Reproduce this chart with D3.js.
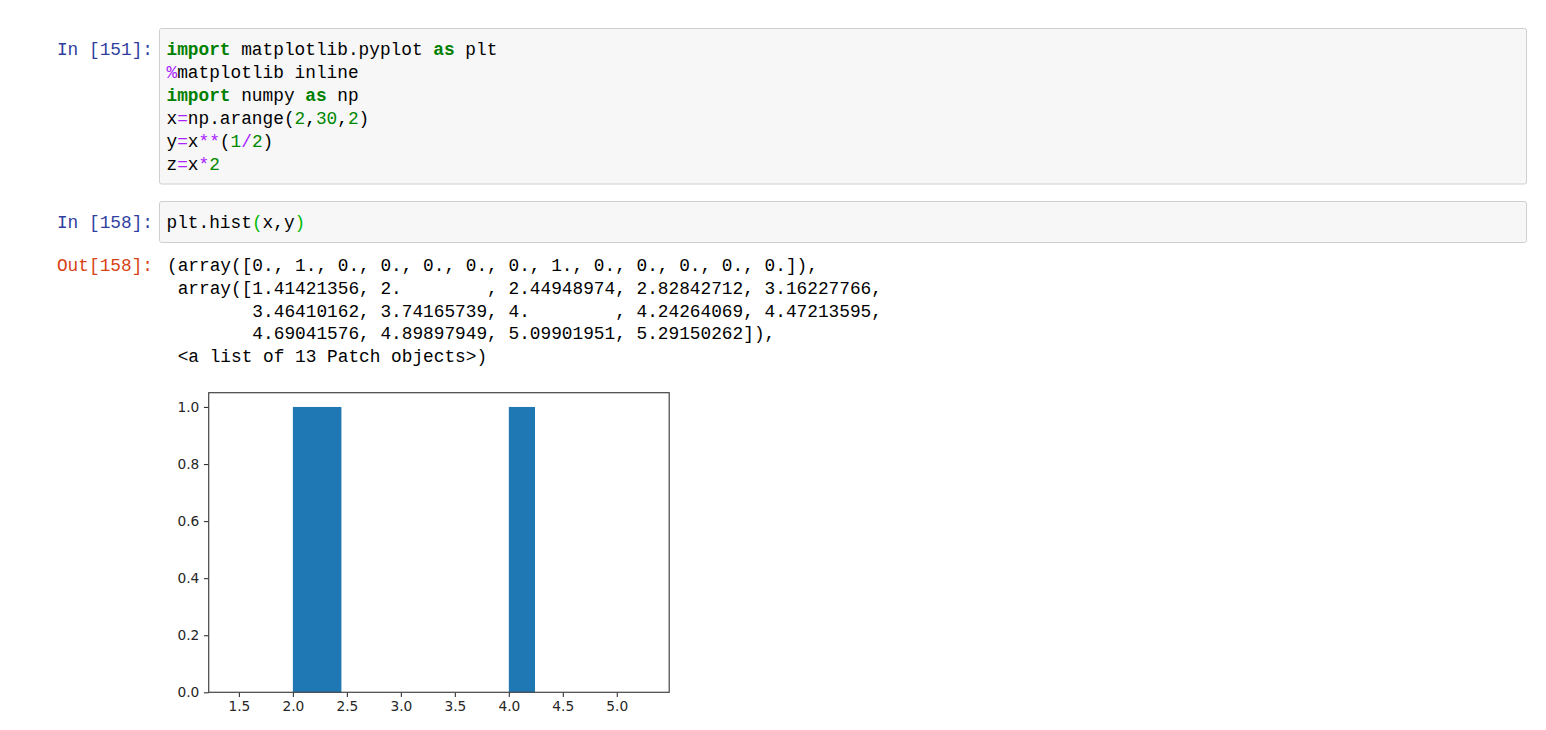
<!DOCTYPE html>
<html>
<head>
<meta charset="utf-8">
<script src="https://cdn.jsdelivr.net/npm/d3@7"></script>
<style>
  html, body { margin: 0; padding: 0; background: #fff; }
  svg { display: block; }
  .mono { font-family: "Liberation Mono", "DejaVu Sans Mono", monospace; font-size: 17.8px; white-space: pre; }
  .tick text { font-family: "DejaVu Sans", sans-serif; font-size: 13.75px; fill: #262626; }
</style>
</head>
<body>
<svg id="page" width="1546" height="730"></svg>
<script>
// ---------- data ----------
const counts = [0, 1, 0, 0, 0, 0, 0, 1, 0, 0, 0, 0, 0];
const binEdges = [1.41421356, 2.0, 2.44948974, 2.82842712, 3.16227766,
  3.46410162, 3.74165739, 4.0, 4.24264069, 4.47213595,
  4.69041576, 4.89897949, 5.09901951, 5.29150262];
const xTicks = [1.5, 2.0, 2.5, 3.0, 3.5, 4.0, 4.5, 5.0];
const yTicks = [0.0, 0.2, 0.4, 0.6, 0.8, 1.0];

// code cell tokens: [text, class]
const cell1Lines = [
  [["import", "kw"], [" matplotlib.pyplot ", ""], ["as", "kw"], [" plt", ""]],
  [["%", "op"], ["matplotlib inline", ""]],
  [["import", "kw"], [" numpy ", ""], ["as", "kw"], [" np", ""]],
  [["x", ""], ["=", "op"], ["np.arange(", ""], ["2", "num"], [",", ""], ["30", "num"], [",", ""], ["2", "num"], [")", ""]],
  [["y", ""], ["=", "op"], ["x", ""], ["**", "op"], ["(", ""], ["1", "num"], ["/", "op"], ["2", "num"], [")", ""]],
  [["z", ""], ["=", "op"], ["x", ""], ["*", "op"], ["2", "num"]]
];
const cell2Lines = [
  [["plt.hist", ""], ["(", "br"], ["x,y", ""], [")", "br"]]
];
const outLines = [
  "(array([0., 1., 0., 0., 0., 0., 0., 1., 0., 0., 0., 0., 0.]),",
  " array([1.41421356, 2.        , 2.44948974, 2.82842712, 3.16227766,",
  "        3.46410162, 3.74165739, 4.        , 4.24264069, 4.47213595,",
  "        4.69041576, 4.89897949, 5.09901951, 5.29150262]),",
  " <a list of 13 Patch objects>)"
];

const tokenStyle = {
  "kw": { fill: "#008000", weight: "bold" },
  "op": { fill: "#AA22FF", weight: "normal" },
  "num": { fill: "#008800", weight: "normal" },
  "br": { fill: "#00bb00", weight: "normal" },
  "": { fill: "#000000", weight: "normal" }
};

const svg = d3.select("#page");

// ---------- notebook cells ----------
function codeCell(cellTop, cellHeight, prompt, lines, firstBaseline) {
  svg.append("rect")
    .attr("x", 159.5).attr("y", cellTop).attr("width", 1367).attr("height", cellHeight)
    .attr("rx", 2).attr("fill", "#f7f7f7").attr("stroke", "#cfcfcf").attr("stroke-width", 1);
  svg.append("text").attr("class", "mono")
    .attr("x", 153).attr("y", firstBaseline).attr("text-anchor", "end")
    .attr("fill", "#303F9F").text(prompt);
  lines.forEach((toks, i) => {
    const t = svg.append("text").attr("class", "mono")
      .attr("x", 166.5).attr("y", firstBaseline + i * 23.06);
    toks.forEach(([s, c]) => {
      t.append("tspan").text(s)
        .attr("fill", tokenStyle[c].fill)
        .attr("font-weight", tokenStyle[c].weight);
    });
  });
}
codeCell(28.5, 155.5, "In [151]:", cell1Lines, 55);
codeCell(201.5, 41, "In [158]:", cell2Lines, 227.7);

svg.append("text").attr("class", "mono")
  .attr("x", 153).attr("y", 271).attr("text-anchor", "end")
  .attr("fill", "#D84315").text("Out[158]:");
outLines.forEach((s, i) => {
  svg.append("text").attr("class", "mono")
    .attr("x", 167).attr("y", 271 + i * 22.75).attr("fill", "#000").text(s);
});

// ---------- histogram ----------
const plotLeft = 208.7, plotRight = 669.2, plotTop = 392.7, plotBottom = 692.3;
const lo = binEdges[0], hi = binEdges[binEdges.length - 1];
const pad = 0.05 * (hi - lo);
const x = d3.scaleLinear().domain([lo - pad, hi + pad]).range([plotLeft, plotRight]);
const y = d3.scaleLinear().domain([0, d3.max(counts) * 1.05]).range([plotBottom, plotTop]);

const bins = counts.map((c, i) => ({ x0: binEdges[i], x1: binEdges[i + 1], c }));
svg.append("g").selectAll("rect").data(bins).join("rect")
  .attr("x", d => x(d.x0))
  .attr("width", d => Math.max(0, x(d.x1) - x(d.x0)))
  .attr("y", d => y(d.c))
  .attr("height", d => y(0) - y(d.c))
  .attr("fill", "#1f77b4");

const xAxis = svg.append("g").attr("transform", `translate(0,${plotBottom})`)
  .call(d3.axisBottom(x).tickValues(xTicks).tickFormat(d3.format(".1f"))
    .tickSize(4.8).tickPadding(4.6));
const yAxis = svg.append("g").attr("transform", `translate(${plotLeft},0)`)
  .call(d3.axisLeft(y).tickValues(yTicks).tickFormat(d3.format(".1f"))
    .tickSize(4.8).tickPadding(4.6));
[xAxis, yAxis].forEach(g => {
  g.select(".domain").remove();
  g.selectAll(".tick line").attr("stroke", "#333").attr("stroke-width", 1.1);
});

svg.append("rect")
  .attr("x", plotLeft).attr("y", plotTop).attr("width", plotRight - plotLeft).attr("height", plotBottom - plotTop)
  .attr("fill", "none").attr("stroke", "#444").attr("stroke-width", 1.2);
</script>
</body>
</html>
